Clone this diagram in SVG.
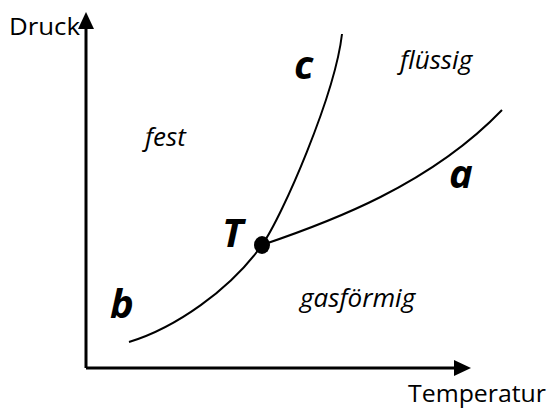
<svg xmlns="http://www.w3.org/2000/svg" width="549" height="408" viewBox="0 0 549 408">
<style>
.lbl{font-family:"Open Sans","Liberation Sans",sans-serif;font-size:24px;fill:#000}
.reg{font-family:"Open Sans","Liberation Sans",sans-serif;font-size:26px;font-style:italic;fill:#000}
.big{font-family:"Open Sans","Liberation Sans",sans-serif;font-size:40px;font-style:italic;font-weight:bold;fill:#000}
.axis{stroke:#000;stroke-width:3;fill:none}
.curve{stroke:#000;stroke-width:2;fill:none}
</style>
<rect width="549" height="408" fill="#fff"/>
<g id="axes">
<path class="axis" d="M86,368 V27"/>
<path class="axis" d="M86,368 H456"/>
<polygon points="86,12 78,29 94,29" fill="#000"/>
<polygon points="471,368 454,360 454,376" fill="#000"/>
</g>
<g id="connectors">
<path id="curve-b" class="curve" d="M129,342 C175,328 230,290 262,245"/>
<path id="curve-c" class="curve" d="M262,245 C282,217 335,95 342,34"/>
<path id="curve-a" class="curve" d="M262,245 C330,222 430,185 502,110"/>
</g>
<g id="triple-point">
<ellipse cx="262" cy="245" rx="8" ry="9" fill="#000"/>
<text class="big" x="222" y="247">T</text>
</g>
<g id="labels">
<text class="lbl" x="9" y="35" textLength="71" lengthAdjust="spacingAndGlyphs">Druck</text>
<text class="lbl" x="408" y="402" textLength="138" lengthAdjust="spacingAndGlyphs">Temperatur</text>
<text class="reg" x="145" y="146">fest</text>
<text class="reg" x="400" y="69">flüssig</text>
<text class="reg" x="300" y="307">gasförmig</text>
<text class="big" x="294" y="79">c</text>
<text class="big" x="449" y="188">a</text>
<text class="big" x="110" y="318">b</text>
</g>
</svg>
